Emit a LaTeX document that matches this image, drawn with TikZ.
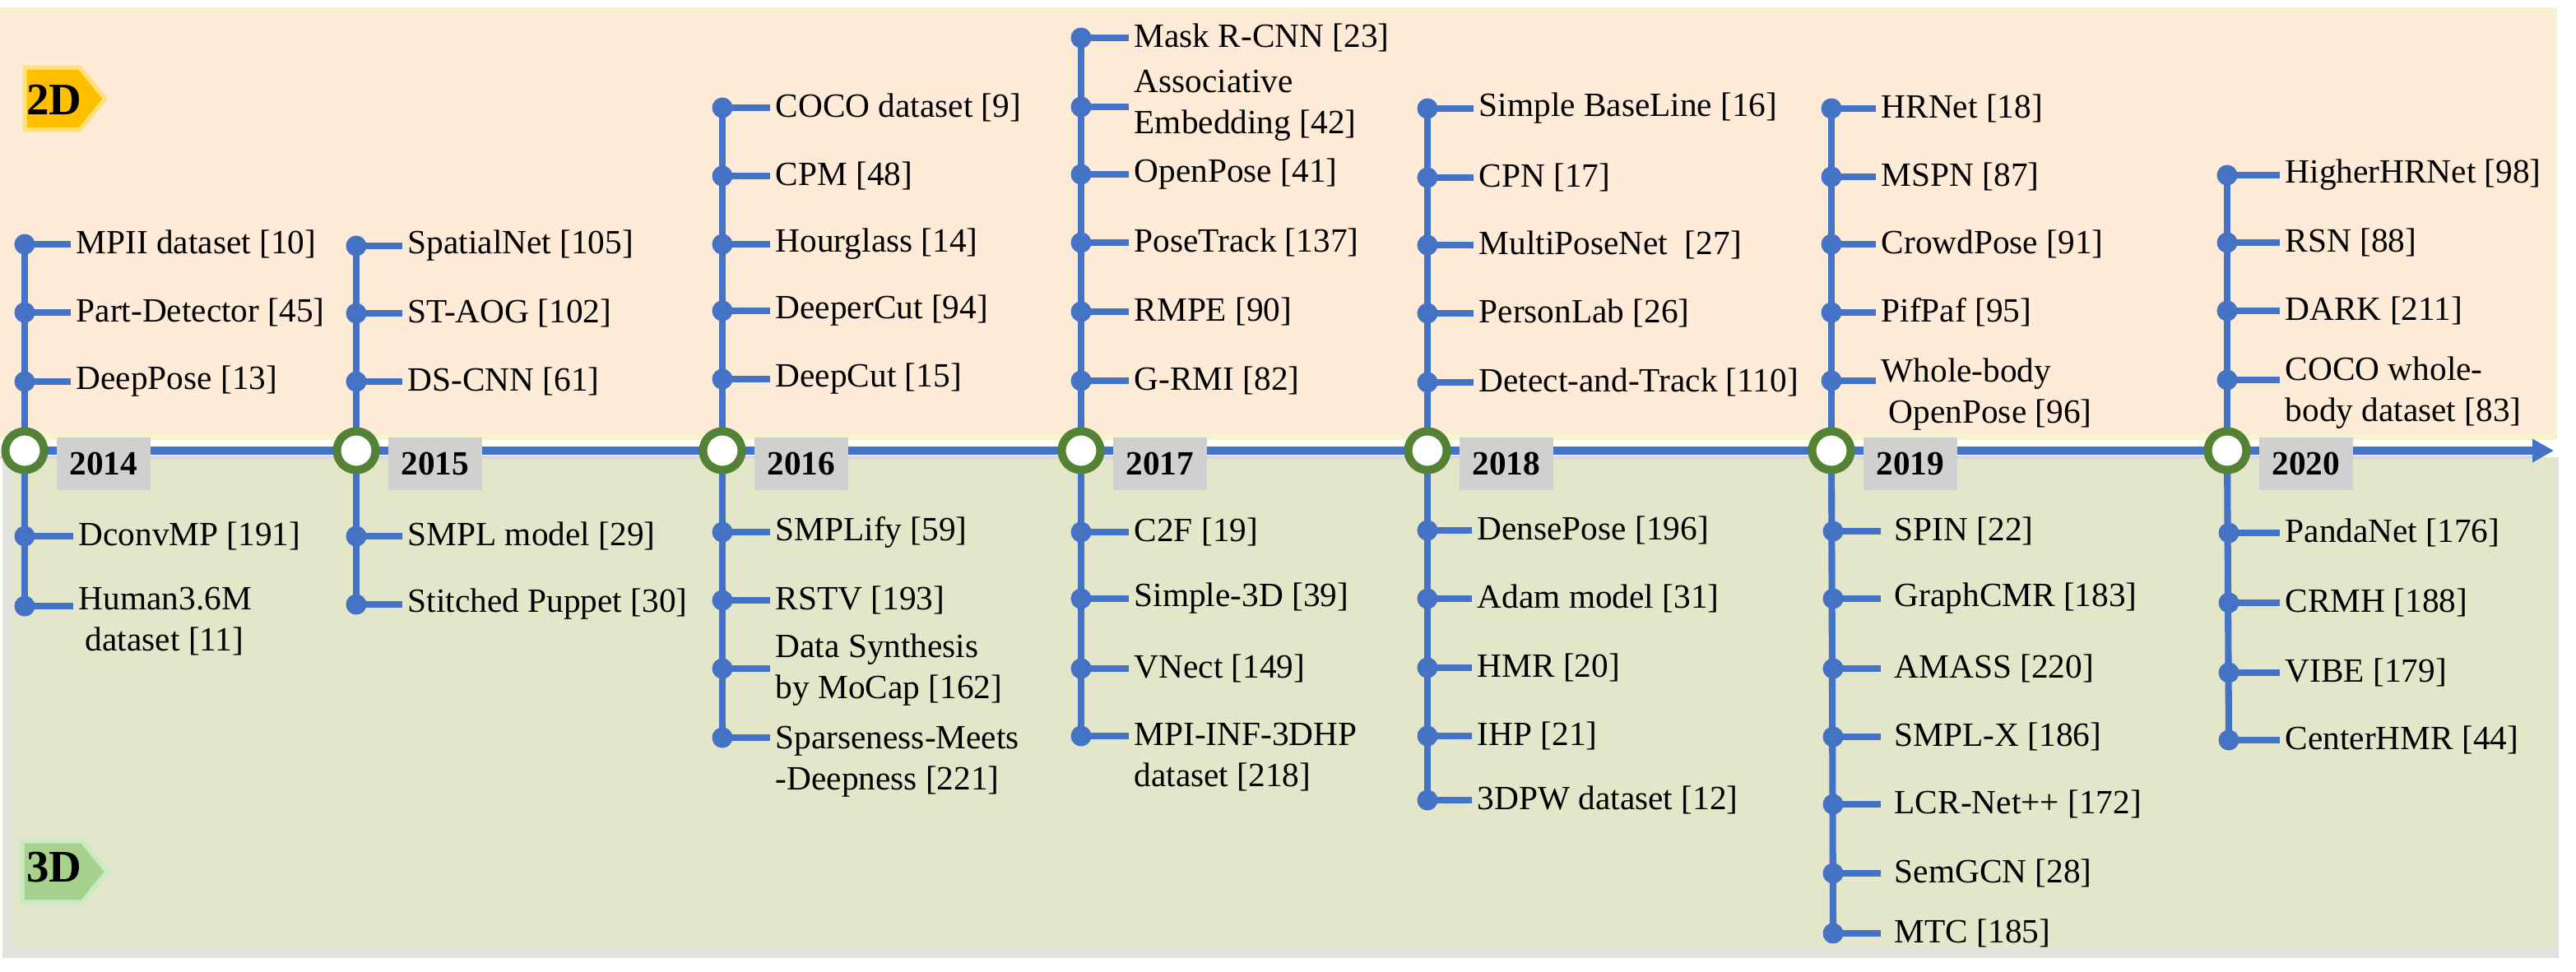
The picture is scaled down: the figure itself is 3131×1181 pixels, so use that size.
\documentclass[tikz,border=0pt]{standalone}
\usepackage{fontspec}
\setmainfont{Liberation Serif}
\usetikzlibrary{arrows.meta,calc}
\definecolor{tlblue}{HTML}{4472C4}
\definecolor{ringgreen}{HTML}{548235}
\definecolor{peach}{HTML}{FDEBD8}
\definecolor{paleyel}{HTML}{F5F4CD}
\definecolor{lowgreen}{HTML}{E3E6C8}
\definecolor{shadowgray}{HTML}{E2E2DF}
\definecolor{yeargray}{HTML}{D0D0D0}
\definecolor{tagGold}{HTML}{FFC000}
\definecolor{tagGoldHalo}{HTML}{FFE27F}
\definecolor{tagGreen}{HTML}{A9D18E}
\definecolor{tagGreenHalo}{HTML}{C9EBC3}
\definecolor{lavline}{HTML}{DAD3EA}
\def\stubgap{1.6pt}
\tikzset{
  vline/.style={draw=tlblue, line width=2.3pt},
  stub/.style={draw=tlblue, line width=2.1pt, shorten >=\stubgap},
  dotn/.style={circle, fill=tlblue, minimum size=0.25cm, inner sep=0pt},
  lbl/.style={anchor=west, inner sep=0pt, align=left, font=\fontsize{11.75}{14.2}\selectfont},
  ring/.style={circle, draw=ringgreen, fill=white, line width=2.85pt, minimum size=0.47cm, inner sep=0pt},
  yearbox/.style={fill=yeargray, minimum width=1.14cm, minimum height=0.63cm, inner sep=0pt, anchor=west, font=\fontsize{11.75}{14}\selectfont\bfseries},
  axisline/.style={draw=tlblue, line width=2.6pt, -{Triangle[length=0.26cm,width=0.27cm]}},
  tagtext/.style={inner sep=0pt, font=\fontsize{15.6}{18}\selectfont\bfseries},
}
\newcommand\tlent[5]{%
  \node[dotn] (d#1) at (#2,#3) {};
  \node[lbl] (t#1) at (#2+#4,#3) {#5};
  \draw[stub] (d#1.center) -- (d#1.center -| t#1.west);
}
\newcommand\tlentB[6]{%
  \node[dotn] (d#1) at (#2,#3) {};
  \node[lbl] (t#1) at (#2+#5,#4) {#6};
  \draw[stub] (d#1.center) -- (d#1.center -| t#1.west);
}
\begin{document}
\begin{tikzpicture}[x=0.01cm,y=-0.01cm]
\useasboundingbox (0,0) rectangle (3131,1181);
% backgrounds
\fill[paleyel] (0,9) rectangle (3108,535);
\fill[peach] (0,15) rectangle (3104,528);
\fill[shadowgray] (3,556) rectangle (3110,1165);
\fill[lowgreen] (15,556) rectangle (3106,1152);
% tags
\filldraw[fill=tagGold, draw=tagGoldHalo, line width=1.5pt] (30,82) -- (97,82) -- (128,120) -- (97,158) -- (30,158) -- cycle;
\node[tagtext] (tag2d) at (66,121) {2D};
\filldraw[fill=tagGreen, draw=tagGreenHalo, line width=1.5pt] (27,1023) -- (100,1023) -- (130,1060) -- (100,1097) -- (27,1097) -- cycle;
\node[tagtext] (tag3d) at (66,1055) {3D};
% year coordinates
\coordinate (c2014) at (30,548);
\coordinate (c2015) at (433,548);
\coordinate (c2016) at (878,548);
\coordinate (c2017) at (1314,548);
\coordinate (c2018) at (1735,548);
\coordinate (c2019) at (2226,548);
\coordinate (c2020) at (2707,548);
\coordinate (axend) at (3104,548);
\coordinate (lavA) at (0,556);
\coordinate (lavB) at (3078,556);
\draw[lavline, line width=1pt] (lavA) -- (lavB);
\draw[axisline] (c2014) -- (axend);
% 2014
\tlent{a1}{30}{297}{62}{MPII dataset [10]}
\tlent{a2}{30}{380}{62}{Part-Detector [45]}
\tlent{a3}{30}{464}{62}{DeepPose [13]}
\tlent{a4}{30}{652}{65}{DconvMP [191]}
\tlentB{a5}{30}{737}{756}{65}{Human3.6M\\\hspace*{0.2em}dataset [11]}
\draw[vline] (da1.center) -- (c2014) -- (da5.center);
% 2015
\tlent{b1}{433}{299}{62}{SpatialNet [105]}
\tlent{b2}{433}{381}{62}{ST-AOG [102]}
\tlent{b3}{433}{464}{62}{DS-CNN [61]}
\tlent{b4}{433}{652}{62}{SMPL model [29]}
\tlent{b5}{433}{735}{62}{Stitched Puppet [30]}
\draw[vline] (db1.center) -- (c2015) -- (db5.center);
% 2016
\tlent{c1}{878}{131}{64}{COCO dataset [9]}
\tlent{c2}{878}{214}{64}{CPM [48]}
\tlent{c3}{878}{297}{64}{Hourglass [14]}
\tlent{c4}{878}{378}{64}{DeeperCut [94]}
\tlent{c5}{878}{461}{64}{DeepCut [15]}
\tlent{c6}{878}{647}{64}{SMPLify [59]}
\tlent{c7}{878}{730}{64}{RSTV [193]}
\tlentB{c8}{878}{813}{815}{64}{Data Synthesis\\by MoCap [162]}
\tlentB{c9}{878}{897}{926}{64}{Sparseness-Meets\\-Deepness [221]}
\draw[vline] (dc1.center) -- (c2016) -- (dc9.center);
% 2017
\tlent{e1}{1314}{46}{64}{Mask R-CNN [23]}
\tlentB{e2}{1314}{130}{128}{64}{Associative\\Embedding [42]}
\tlent{e3}{1314}{212}{64}{OpenPose [41]}
\tlent{e4}{1314}{295}{64}{PoseTrack [137]}
\tlent{e5}{1314}{379}{64}{RMPE [90]}
\tlent{e6}{1314}{463}{64}{G-RMI [82]}
\tlent{e7}{1314}{647}{64}{C2F [19]}
\tlent{e8}{1314}{728}{64}{Simple-3D [39]}
\tlent{e9}{1314}{813}{64}{VNect [149]}
\tlentB{e10}{1314}{895}{921}{64}{MPI-INF-3DHP\\dataset [218]}
\draw[vline] (de1.center) -- (c2017) -- (de10.center);
% 2018
\tlent{f1}{1735}{132}{62}{Simple BaseLine [16]}
\tlent{f2}{1735}{216}{62}{CPN [17]}
\tlent{f3}{1735}{298}{62}{MultiPoseNet\ \ [27]}
\tlent{f4}{1735}{381}{62}{PersonLab [26]}
\tlent{f5}{1735}{465}{62}{Detect-and-Track [110]}
\tlent{f6}{1735}{645}{60}{DensePose [196]}
\tlent{f7}{1735}{728}{60}{Adam model [31]}
\tlent{f8}{1735}{812}{60}{HMR [20]}
\tlent{f9}{1735}{895}{60}{IHP [21]}
\tlent{f10}{1735}{973}{60}{3DPW dataset [12]}
\draw[vline] (df1.center) -- (c2018) -- (df10.center);
% 2019
\tlent{g1}{2226}{132}{60}{HRNet [18]}
\tlent{g2}{2226}{215}{60}{MSPN [87]}
\tlent{g3}{2226}{297}{60}{CrowdPose [91]}
\tlent{g4}{2226}{380}{60}{PifPaf [95]}
\tlentB{g5}{2226}{463}{480}{60}{Whole-body\\\hspace*{0.22em}OpenPose [96]}
\def\stubgap{4.5pt}
\tlent{g6}{2228}{646}{74}{SPIN [22]}
\tlent{g7}{2228}{728}{74}{GraphCMR [183]}
\tlent{g8}{2228}{813}{74}{AMASS [220]}
\tlent{g9}{2228}{896}{74}{SMPL-X [186]}
\tlent{g10}{2228}{978}{74}{LCR-Net++ [172]}
\tlent{g11}{2228}{1062}{74}{SemGCN [28]}
\tlent{g12}{2228}{1135}{74}{MTC [185]}
\def\stubgap{1.6pt}
\draw[vline] (dg1.center) -- (c2019);
\draw[vline] (c2019) -- (dg12.center);
% 2020
\tlent{h1}{2707}{213}{70}{HigherHRNet [98]}
\tlent{h2}{2707}{295}{70}{RSN [88]}
\tlent{h3}{2707}{378}{70}{DARK [211]}
\tlentB{h4}{2707}{462}{478}{70}{COCO whole-\\body dataset [83]}
\tlent{h5}{2709}{648}{68}{PandaNet [176]}
\tlent{h6}{2709}{733}{68}{CRMH [188]}
\tlent{h7}{2709}{818}{68}{VIBE [179]}
\tlent{h8}{2709}{900}{68}{CenterHMR [44]}
\draw[vline] (dh1.center) -- (c2020);
\draw[vline] (c2020) -- (dh8.center);
% rings and year boxes
\foreach \yr in {2014,2015,2016,2017,2018,2019,2020}{
  \node[ring] (r\yr) at (c\yr) {};
  \node[yearbox] (yb\yr) at ($(c\yr)+(38,16)$) {\yr};
}
\end{tikzpicture}
\end{document}
